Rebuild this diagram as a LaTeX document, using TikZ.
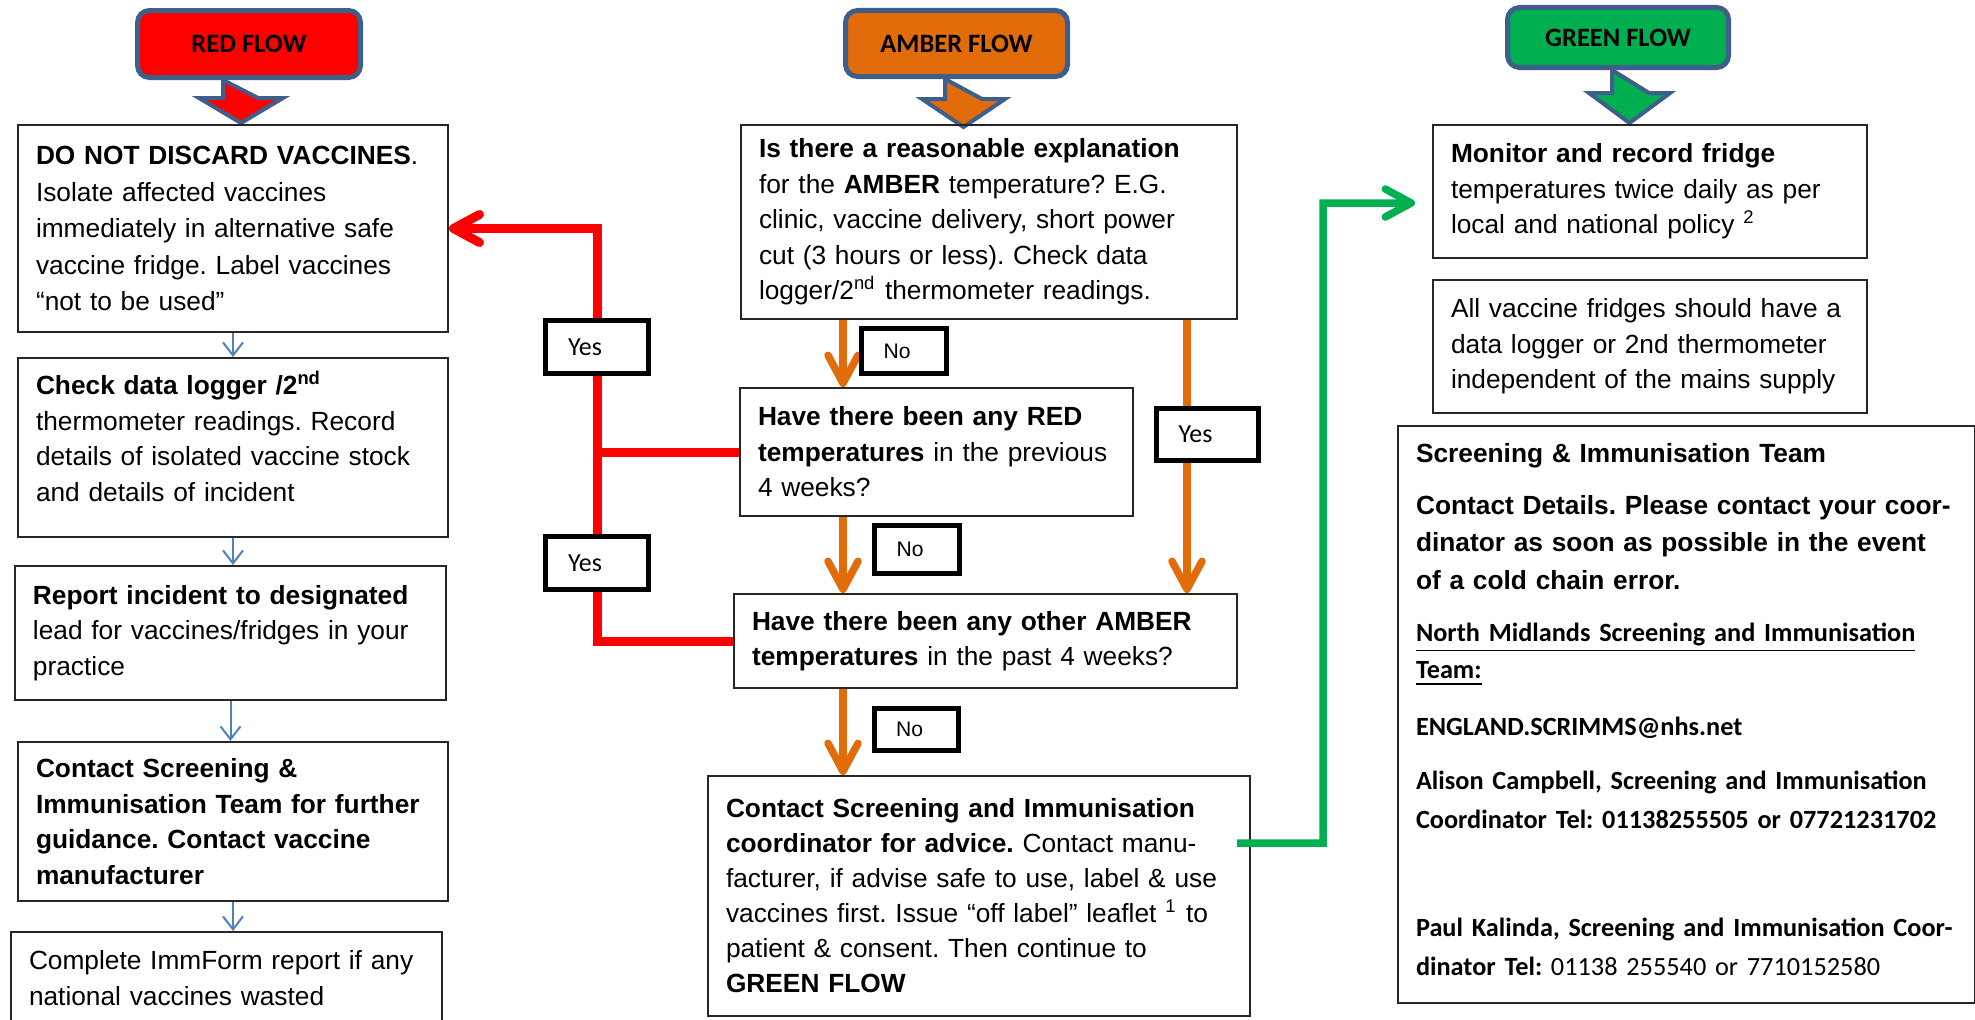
\documentclass[tikz,border=0pt]{standalone}
\usepackage{fontspec}
\setmainfont{Liberation Sans}
\newfontfamily\calibri{Carlito}
\usetikzlibrary{arrows.meta}

\definecolor{redflow}{RGB}{255,0,0}
\definecolor{amberflow}{RGB}{227,108,10}
\definecolor{greenflow}{RGB}{0,176,80}
\definecolor{flowedge}{RGB}{62,94,139}
\definecolor{stepblue}{RGB}{79,129,189}

\tikzset{
  flowbox/.style={draw=flowedge, line width=0.05cm, rounded corners=0.12cm,
    font=\calibri\bfseries\fontsize{7.54}{9}\selectfont},
  blockarrow/.style={draw=flowedge, line width=0.04cm},
  infobox/.style={draw=black!85, line width=0.02cm, anchor=north west,
    inner xsep=0.18cm, inner ysep=0cm, align=left,
    font=\fontsize{7.48}{10.1}\selectfont},
  answer/.style={draw=black, line width=0.05cm, fill=white, inner sep=0pt},
  thinarrow/.style={draw=stepblue, line width=0.02cm,
    -{Straight Barb[length=0.13cm,width=0.2cm]}},
  lineshadow/.style={preaction={draw=black!30, transform canvas={yshift=-0.03cm}}},
  redline/.style={draw=redflow, line width=0.09cm, lineshadow,
    -{Straight Barb[length=0.26cm,width=0.28cm,round]}},
  amberline/.style={draw=amberflow, line width=0.075cm, lineshadow,
    -{Straight Barb[length=0.28cm,width=0.30cm,round]}},
  greenline/.style={draw=greenflow, line width=0.075cm, lineshadow,
    -{Straight Barb[length=0.26cm,width=0.28cm,round]}}
}

\begin{document}
\frenchspacing
\begin{tikzpicture}

  \useasboundingbox (0,0) rectangle (19.75,-10.19);

  \node[flowbox, fill=redflow, minimum width=2.23cm, minimum height=0.67cm] (rf) at (2.49,-0.44) {RED FLOW};
  \node[flowbox, fill=amberflow, minimum width=2.22cm, minimum height=0.66cm] (af) at (9.565,-0.435) {AMBER FLOW};
  \node[flowbox, fill=greenflow, minimum width=2.21cm, minimum height=0.60cm] (gf) at (16.18,-0.375) {GREEN FLOW};

  \draw[blockarrow, fill=redflow] ([xshift=-0.26cm]rf.south) -- ++(0,-0.18) -- ++(-0.24,0)
    -- ++(0.42,-0.25) -- ++(0.42,0.25) -- ++(-0.25,0) -- cycle;
  \draw[blockarrow, fill=amberflow] ([xshift=-0.115cm]af.south) -- ++(0,-0.20) -- ++(-0.23,0)
    -- ++(0.415,-0.28) -- ++(0.415,0.28) -- ++(-0.23,0) -- cycle;
  \draw[blockarrow, fill=greenflow] ([xshift=-0.06cm]gf.south) -- ++(0,-0.23) -- ++(-0.23,0)
    -- ++(0.405,-0.30) -- ++(0.405,0.30) -- ++(-0.21,0) -- cycle;

  \begin{scope}[every node/.style={infobox}]
    \node[text width=3.94cm, minimum width=4.30cm, minimum height=2.07cm,
      font=\fontsize{7.48}{10.4}\selectfont] (r1) at (0.17,-1.24)
      {\textbf{DO NOT DISCARD VACCINES}.\\ Isolate affected vaccines\\ immediately in alternative safe\\
       vaccine fridge. Label vaccines\\ “not to be used”};
    \node[text width=3.94cm, minimum width=4.30cm, minimum height=1.79cm, text depth=1.29cm] (r2) at (0.17,-3.57)
      {\textbf{Check data logger /2\textsuperscript{nd}}\\ thermometer readings. Record\\
       details of isolated vaccine stock\\ and details of incident};
    \node[text width=3.95cm, minimum width=4.31cm, minimum height=1.34cm] (r3) at (0.14,-5.65)
      {\textbf{Report incident to designated}\\ lead for vaccines/fridges in your\\ practice};
    \node[text width=3.94cm, minimum width=4.30cm, minimum height=1.59cm] (r4) at (0.17,-7.41)
      {\textbf{Contact Screening \&}\\ \textbf{Immunisation Team for further}\\
       \textbf{guidance. Contact vaccine}\\ \textbf{manufacturer}};
    \node[text width=3.95cm, minimum width=4.31cm, minimum height=0.92cm] (r5) at (0.10,-9.31)
      {Complete ImmForm report if any\\ national vaccines wasted};

    \node[text width=4.60cm, minimum width=4.96cm, minimum height=1.94cm] (a1) at (7.40,-1.24)
      {\textbf{Is there a reasonable explanation}\\ for the \textbf{AMBER} temperature? E.G.\\
       clinic, vaccine delivery, short power\\ cut (3 hours or less). Check data\\
       logger/2\textsuperscript{nd} thermometer readings.};
    \node[text width=3.57cm, minimum width=3.93cm, minimum height=1.28cm] (a2) at (7.39,-3.87)
      {\textbf{Have there been any RED}\\ \textbf{temperatures} in the previous\\ 4 weeks?};
    \node[text width=4.67cm, minimum width=5.03cm, minimum height=0.94cm] (a3) at (7.33,-5.93)
      {\textbf{Have there been any other AMBER}\\ \textbf{temperatures} in the past 4 weeks?};
    \node[text width=5.06cm, minimum width=5.42cm, minimum height=2.40cm,
      font=\fontsize{7.48}{9.95}\selectfont] (a4) at (7.07,-7.75)
      {\textbf{Contact Screening and Immunisation}\\ \textbf{coordinator for advice.} Contact manu-\\
       facturer, if advise safe to use, label \& use\\
       vaccines first. Issue “off label” leaflet \textsuperscript{1} to\\
       patient \& consent. Then continue to\\ \textbf{GREEN FLOW}};

    \node[text width=3.98cm, minimum width=4.34cm, minimum height=1.33cm] (g1) at (14.32,-1.24)
      {\textbf{Monitor and record fridge}\\ temperatures twice daily as per\\
       local and national policy \textsuperscript{2}};
    \node[text width=3.98cm, minimum width=4.34cm, minimum height=1.33cm] (g2) at (14.32,-2.79)
      {All vaccine fridges should have a\\ data logger or 2nd thermometer\\
       independent of the mains supply};
    \node[text width=5.41cm, minimum width=5.77cm, minimum height=5.77cm, text depth=5.24cm,
      font=\fontsize{7.48}{10.7}\selectfont] (team) at (13.97,-4.25)
      {\textbf{Screening \& Immunisation Team}\\[4.1pt]
       \textbf{Contact Details. Please contact your coor-}\\
       \textbf{dinator as soon as possible in the event}\\
       \textbf{of a cold chain error.}\\[4.1pt]
       {\calibri\bfseries\underline{North Midlands Screening and Immunisation}}\\
       {\calibri\bfseries\underline{Team:}}\\[5.5pt]
       {\calibri\bfseries ENGLAND.SCRIMMS@nhs.net}\\[4.7pt]
       {\calibri\bfseries Alison Campbell, Screening and Immunisation}\\[0.4pt]
       {\calibri\bfseries Coordinator Tel: 01138255505 or 07721231702}\\[20pt]
       {\calibri\bfseries Paul Kalinda, Screening and Immunisation Coor-}\\[0.4pt]
       {\calibri\bfseries dinator Tel:} {\calibri 01138 255540 or 7710152580}};
  \end{scope}

  \draw[thinarrow] (r1.south) -- (r1.south |- r2.north);
  \draw[thinarrow] (r2.south) -- (r2.south |- r3.north);
  \draw[thinarrow] (r3.south) -- (r3.south |- r4.north);
  \draw[thinarrow] (r4.south) -- (r4.south |- r5.north);

  \coordinate (ax) at (8.43,0);
  \coordinate (bx) at (11.87,0);
  \coordinate (vx) at (5.97,0);
  \coordinate (gx) at (13.23,-2.03);

  \draw[redline] (a3.west) -| (vx |- a2.west) |- (r1.east);
  \draw[redline, -] (a2.west) -- (a2.west -| vx);

  \draw[amberline] (a1.south -| ax) -- (a2.north -| ax);
  \draw[amberline] (a2.south -| ax) -- (a3.north -| ax);
  \draw[amberline] (a3.south -| ax) -- (a4.north -| ax);
  \draw[amberline] (a1.south -| bx) -- (a3.north -| bx);

  \draw[greenline] ([shift={(-0.14,0.53)}]a4.east) -| (gx) -- ([shift={(-0.17,-0.115)}]g1.west);

  \begin{scope}[every node/.style={answer}]
    \node[minimum width=1.03cm, minimum height=0.53cm, font=\calibri\fontsize{7.4}{9}\selectfont] (yes1) at (5.97,-3.47) {Yes\kern0.24cm};
    \node[minimum width=1.03cm, minimum height=0.53cm, font=\calibri\fontsize{7.4}{9}\selectfont] (yes2) at (5.97,-5.63) {Yes\kern0.24cm};
    \node[minimum width=1.02cm, minimum height=0.52cm, font=\calibri\fontsize{7.4}{9}\selectfont] (yes3) at (12.075,-4.345) {Yes\kern0.24cm};
    \node[minimum width=0.85cm, minimum height=0.45cm, font=\fontsize{6}{7}\selectfont] (no1) at (9.04,-3.51) {No\kern0.14cm};
    \node[minimum width=0.85cm, minimum height=0.48cm, font=\fontsize{6}{7}\selectfont] (no2) at (9.17,-5.495) {No\kern0.14cm};
    \node[minimum width=0.84cm, minimum height=0.42cm, font=\fontsize{6}{7}\selectfont] (no3) at (9.165,-7.295) {No\kern0.14cm};
  \end{scope}

\end{tikzpicture}
\end{document}
